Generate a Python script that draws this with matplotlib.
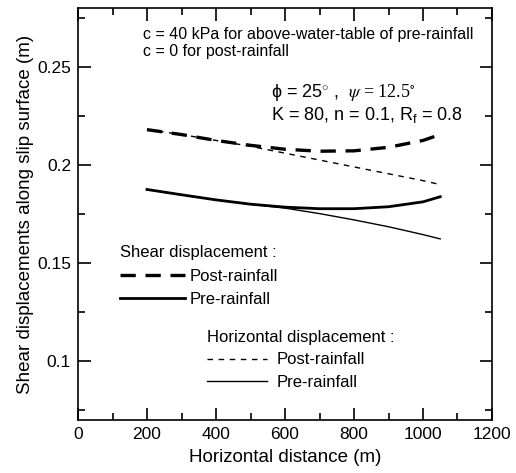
import matplotlib.pyplot as plt
from matplotlib.ticker import MultipleLocator
from matplotlib.lines import Line2D

plt.rcParams['font.family'] = ['Liberation Sans', 'DejaVu Sans']
plt.rcParams['lines.scale_dashes'] = False
plt.rcParams['mathtext.fontset'] = 'custom'
plt.rcParams['mathtext.rm'] = 'Liberation Sans'

# data
x = [200, 300, 400, 500, 600, 700, 800, 900, 1000, 1050]
shear_post = [0.218, 0.2155, 0.2125, 0.2100, 0.2080, 0.2070, 0.2072, 0.2090, 0.2125, 0.2155]
shear_pre = [0.1875, 0.1848, 0.1822, 0.1800, 0.1785, 0.1777, 0.1777, 0.1787, 0.1812, 0.1838]
horiz_post = [0.218, 0.2155, 0.2125, 0.2095, 0.2060, 0.2025, 0.1990, 0.1955, 0.1920, 0.1900]
horiz_pre = [0.1875, 0.1848, 0.1822, 0.1800, 0.1780, 0.1752, 0.1720, 0.1685, 0.1645, 0.1623]

fig = plt.figure(figsize=(5.16, 4.73), dpi=100)
ax = fig.add_axes([78 / 516, 1 - 420 / 473, 414 / 516, 412 / 473])

ax.plot(x, shear_post, color='black', lw=2.4, linestyle=(0, (11, 7)))
ax.plot(x, shear_pre, color='black', lw=2.0)
ax.plot(x, horiz_post, color='black', lw=1.0, linestyle=(0, (4, 4)))
ax.plot(x, horiz_pre, color='black', lw=1.0)

ax.set_xlim(0, 1200)
ax.set_ylim(0.07, 0.28)
ax.xaxis.set_major_locator(MultipleLocator(200))
ax.xaxis.set_minor_locator(MultipleLocator(100))
ax.yaxis.set_minor_locator(MultipleLocator(0.025))
ax.set_yticks([0.1, 0.15, 0.2, 0.25])
ax.set_yticklabels(['0.1', '0.15', '0.2', '0.25'])
ax.tick_params(which='both', direction='in', top=True, right=True, labelsize=12.5, width=1.2)
ax.tick_params(which='major', length=9, pad=5)
ax.tick_params(which='minor', length=5)
for s in ax.spines.values():
    s.set_linewidth(1.2)

ax.set_xlabel('Horizontal distance (m)', fontsize=13.5, labelpad=5)
ax.set_ylabel('Shear displacements along slip surface (m)', fontsize=13.5, labelpad=2)

ax.text(0.157, 0.955, 'c = 40 kPa for above-water-table of pre-rainfall\nc = 0 for post-rainfall',
        transform=ax.transAxes, fontsize=11.5, va='top', linespacing=1.2)
ax.text(0.465, 0.795, '\u03d5 = 25$^{\\circ}$ ,', transform=ax.transAxes,
        fontsize=13, va='center')
ax.text(0.652, 0.795, r'$\psi$ = 12.5$^{\circ}$', transform=ax.transAxes,
        fontsize=13, va='center', family='Liberation Serif', math_fontfamily='stix')
ax.text(0.465, 0.74, r'K = 80, n = 0.1, R$_\mathregular{f}$ = 0.8',
        transform=ax.transAxes, fontsize=13, va='center')

h1 = [Line2D([], [], color='black', lw=2.4, linestyle=(0, (11, 7))),
      Line2D([], [], color='black', lw=2.0)]
leg1 = ax.legend(h1, ['Post-rainfall', 'Pre-rainfall'], title='Shear displacement :',
                 loc='upper left', bbox_to_anchor=(0.065, 0.46), frameon=False,
                 fontsize=12, title_fontsize=12, handlelength=3.9,
                 handletextpad=0.3, labelspacing=0.5, alignment='left')
ax.add_artist(leg1)
h2 = [Line2D([], [], color='black', lw=1.0, linestyle=(0, (4, 4))),
      Line2D([], [], color='black', lw=1.0)]
ax.legend(h2, ['Post-rainfall', 'Pre-rainfall'], title='Horizontal displacement :',
          loc='upper left', bbox_to_anchor=(0.275, 0.255), frameon=False,
          fontsize=12, title_fontsize=12, handlelength=3.6,
          handletextpad=0.6, labelspacing=0.45, alignment='left')

fig.savefig('out.png', dpi=100)
